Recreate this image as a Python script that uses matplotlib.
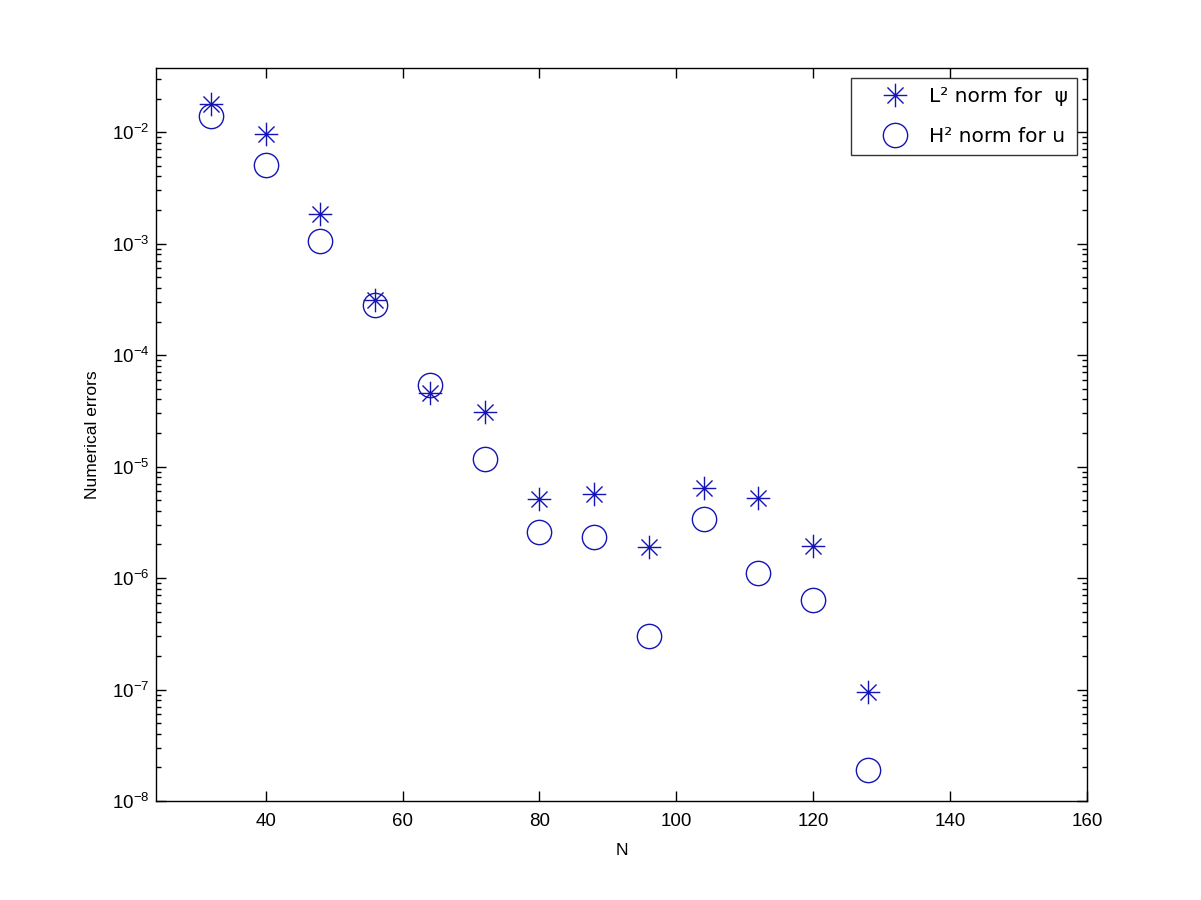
import matplotlib
matplotlib.use("Agg")
import matplotlib.pyplot as plt
from matplotlib.path import Path
from matplotlib.lines import Line2D
from matplotlib.ticker import LogLocator, NullFormatter, MultipleLocator

plt.rcParams['font.family'] = ['Liberation Sans', 'DejaVu Sans']
plt.rcParams['mathtext.fontset'] = 'custom'
plt.rcParams['mathtext.rm'] = 'Liberation Sans'
plt.rcParams['mathtext.it'] = 'Liberation Sans:italic'

# data
N = [32, 40, 48, 56, 64, 72, 80, 88, 96, 104, 112, 120, 128]
err_psi_L2 = [1.8e-2, 9.7e-3, 1.84e-3, 3.1e-4, 4.6e-5, 3.1e-5, 5.1e-6,
              5.7e-6, 1.9e-6, 6.4e-6, 5.2e-6, 1.94e-6, 9.5e-8]
err_u_H2 = [1.4e-2, 5.1e-3, 1.05e-3, 2.8e-4, 5.4e-5, 1.16e-5, 2.6e-6,
            2.34e-6, 3.0e-7, 3.4e-6, 1.1e-6, 6.3e-7, 1.9e-8]
labels = ['L\u00b2 norm for  \u03c8', 'H\u00b2 norm for u']

blue = '#1414b4'

# MATLAB-like asterisk: a "+" plus a shorter "x"
d = 0.68
star = Path([(0, -1), (0, 1), (-1, 0), (1, 0), (-d, -d), (d, d), (-d, d), (d, -d)],
            [Path.MOVETO, Path.LINETO] * 4)

fig = plt.figure(figsize=(12.01, 9.0), dpi=100)
ax = fig.add_axes([0.13, 0.11, 0.775, 0.815])

ax.semilogy(N, err_psi_L2, linestyle='none', marker=star, markersize=17,
            mfc='none', mec=blue, mew=1.0)
ax.semilogy(N, err_u_H2, linestyle='none', marker='o', markersize=17.5,
            mfc='none', mec=blue, mew=1.0)

ax.set_xlim(24, 160)
ax.set_ylim(1e-8, 0.038)
ax.xaxis.set_major_locator(MultipleLocator(20))
ax.yaxis.set_major_locator(LogLocator(base=10, numticks=20))
ax.yaxis.set_minor_locator(LogLocator(base=10, subs=range(2, 10), numticks=20))
ax.yaxis.set_minor_formatter(NullFormatter())

ax.tick_params(which='both', direction='in', top=True, right=True,
               labelsize=13.5, width=1)
ax.tick_params(which='major', length=7)
ax.tick_params(which='minor', length=3.5)
ax.tick_params(axis='x', pad=9)
ax.tick_params(axis='y', pad=5)
for s in ax.spines.values():
    s.set_linewidth(1)

ax.set_xlabel('N', fontsize=12.5, labelpad=9)
ax.set_ylabel('Numerical errors', fontsize=12.5, labelpad=8)

h1 = Line2D([], [], linestyle='none', marker=star, markersize=17,
            mfc='none', mec=blue, mew=1.0)
h2 = Line2D([], [], linestyle='none', marker='o', markersize=17.5,
            mfc='none', mec=blue, mew=1.0)
leg = ax.legend([h1, h2], labels,
                loc='upper right', frameon=True, fancybox=False,
                prop={'family': 'DejaVu Sans', 'size': 14.5},
                edgecolor='black', borderaxespad=0.5, handlelength=3.4,
                handletextpad=0.0, labelspacing=1.05, borderpad=0.45)
leg.get_frame().set_linewidth(1)

fig.savefig('out.png', dpi=100)
